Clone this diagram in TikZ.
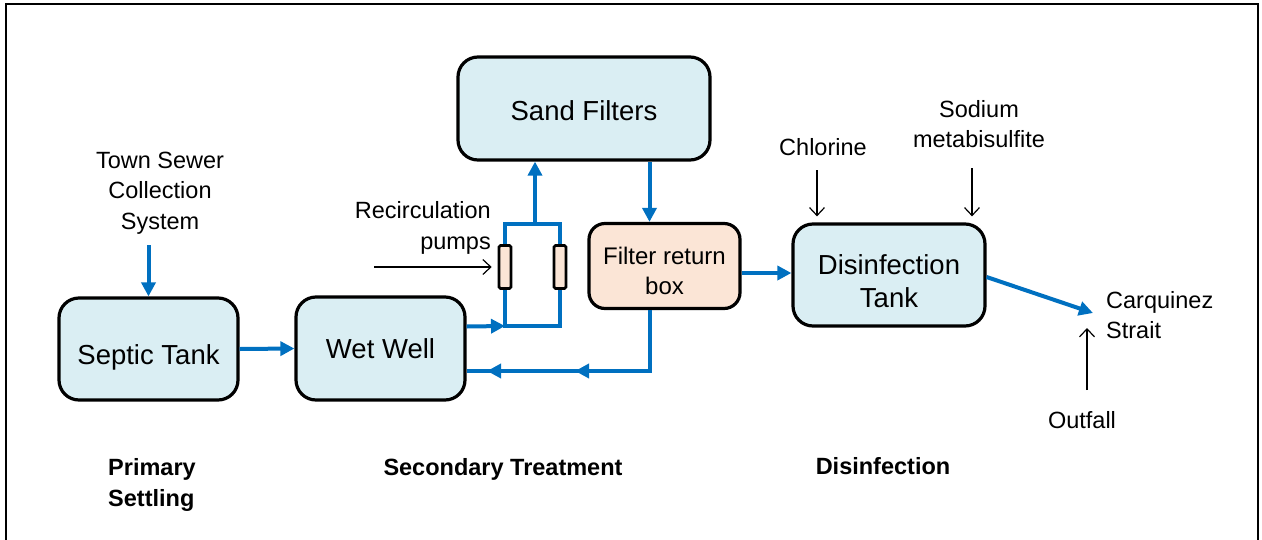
\documentclass[tikz,border=0pt]{standalone}
\usepackage{fontspec}
\setmainfont{Liberation Sans}
\usetikzlibrary{arrows.meta}
\definecolor{tankblue}{HTML}{DAEEF3}
\definecolor{boxpeach}{HTML}{FBE5D6}
\definecolor{pipeblue}{HTML}{0070C0}
\begin{document}
\begin{tikzpicture}[
  x=1pt, y=-1pt,
  line cap=butt, line join=miter,
  tank/.style={draw=black, line width=3.2pt, fill=tankblue, rounded corners=20pt,
    align=center, inner sep=0pt, font=\fontsize{27.5pt}{33pt}\selectfont},
  retbox/.style={tank, fill=boxpeach, rounded corners=16pt, font=\fontsize{24pt}{30pt}\selectfont},
  pumpbox/.style={draw=black, line width=2.6pt, fill=boxpeach, rounded corners=1.5pt,
    minimum width=12pt, minimum height=43pt, inner sep=0pt},
  pipe/.style={draw=pipeblue, line width=4pt},
  flow/.style={pipe, -{Triangle[length=14pt,width=14pt]}},
  note/.style={draw=black, line width=1.2pt, -{Straight Barb[length=8pt,width=15pt]}},
  lbl/.style={inner sep=0pt, align=center, font=\fontsize{23.5pt}{30.5pt}\selectfont},
  stage/.style={lbl, font=\fontsize{23.5pt}{31pt}\selectfont\bfseries}
]
  \useasboundingbox (0,0) rectangle (1262,539);
  % ---- 外框（底边在图外） ----
  \draw[line width=2.6pt] (6,545) -- (6,4) -- (1258,4) -- (1258,545);
  % ---- 方框 ----
  \node[tank, minimum width=179pt, minimum height=102pt, text height=36pt] (septic) at (148.5,349) {Septic Tank};
  \node[tank, minimum width=169pt, minimum height=103pt] (ww) at (380.5,348.5) {Wet Well};
  \node[tank, minimum width=252pt, minimum height=103pt, text height=24pt] (sand) at (584,108.5) {Sand Filters};
  \node[retbox, minimum width=151pt, minimum height=85pt, text height=57pt] (frb) at (664.5,266) {Filter return\\box};
  \node[tank, minimum width=192pt, minimum height=102pt, text height=66pt] (dis) at (889,275) {Disinfection\\Tank};
  % ---- 循环泵回路 ----
  \coordinate (loopnw) at (505,224);
  \coordinate (loopse) at (560,326);
  \coordinate (looptop) at (535,224);
  \draw[pipe] (loopnw) rectangle (loopse);
  \node[pumpbox] (pumpL) at (505,267) {};
  \node[pumpbox] (pumpR) at (560,267) {};
  % ---- 蓝色流向 ----
  \coordinate (retmid) at (575,371);
  \coordinate (retend) at (487,371);
  \coordinate (sea) at (1093,313);
  \draw[flow] (septic.east) -- (ww.west);
  \draw[flow] ([yshift=22pt]ww.east) -- (loopnw |- loopse);
  \draw[flow] (looptop) -- (looptop |- sand.south);
  \draw[flow] ([xshift=-15pt]frb.north |- sand.south) -- ([xshift=-15pt]frb.north);
  \draw[pipe] ([xshift=-15pt]frb.south) |- ([yshift=-22pt]ww.east);
  \draw[flow] ([xshift=8pt]retmid) -- (retmid);
  \draw[flow] ([xshift=8pt]retend) -- (retend);
  \draw[flow] (frb.east |- 0,273) -- (dis.west |- 0,273);
  \draw[flow] ([yshift=-2pt]dis.east) -- (sea);
  % ---- 文字标注 ----
  \node[lbl] (town) at (160,193) {Town Sewer\\Collection\\System};
  \node[lbl, align=right, anchor=east] (recirc) at (491,228) {Recirculation\\pumps};
  \node[lbl] (chlor) at (823,147) {Chlorine};
  \node[lbl] (sodium) at (979,124) {Sodium\\metabisulfite};
  \node[lbl, align=left, anchor=west] (strait) at (1106,315) {Carquinez\\Strait};
  \node[lbl] (outfall) at (1082,420) {Outfall};
  \node[stage, align=left, anchor=west] (primary) at (108,484.5) {Primary\\Settling};
  \node[stage] (secondary) at (503,469) {Secondary Treatment};
  \node[stage] (disinf) at (883,466) {Disinfection};
  % ---- 黑色细箭头 ----
  \coordinate (recircA) at (374,267);
  \coordinate (chlorA) at (817,170);
  \coordinate (sodA) at (972,168);
  \coordinate (outA) at (1087,390);
  \coordinate (outB) at (1087,328);
  \draw[flow] (septic.north |- 0,245) -- (septic.north);
  \draw[note] (recircA) -- ([xshift=-6pt]pumpL.west);
  \draw[note] (chlorA) -- ([yshift=6pt]chlorA |- dis.north);
  \draw[note] (sodA) -- ([yshift=6pt]sodA |- dis.north);
  \draw[note] (outA) -- (outB);
\end{tikzpicture}
\end{document}
